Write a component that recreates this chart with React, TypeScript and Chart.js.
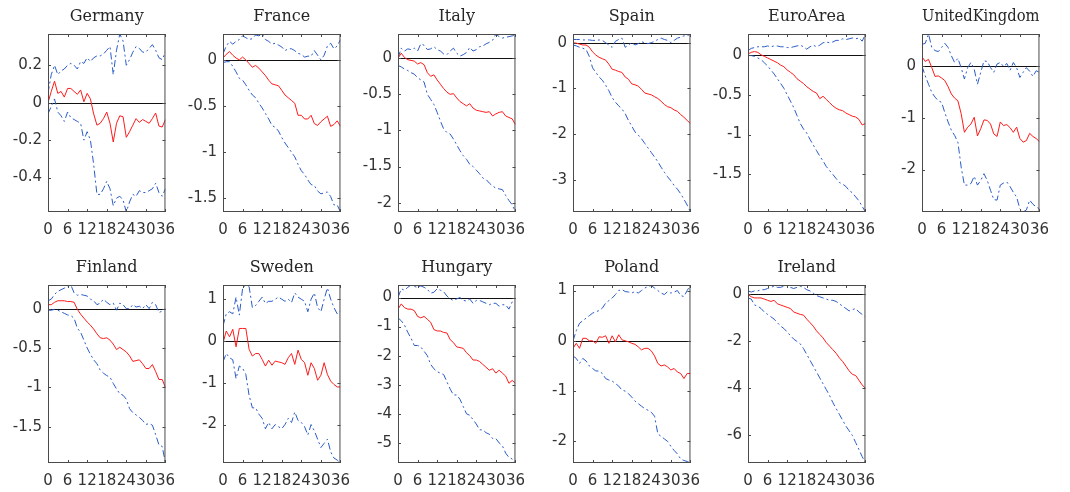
import React, { useEffect, useRef } from "react";
import { Chart, registerables } from "chart.js";

Chart.register(...registerables);

// ---------- data ----------
const months = [0, 1, 2, 3, 4, 5, 6, 7, 8, 9, 10, 11, 12, 13, 14, 15, 16, 17, 18, 19, 20, 21, 22, 23, 24, 25, 26, 27, 28, 29, 30, 31, 32, 33, 34, 35, 36];
const xTicks = [0, 6, 12, 18, 24, 30, 36];

const countries = ["Germany", "France", "Italy", "Spain", "EuroArea", "UnitedKingdom", "Finland", "Sweden", "Hungary", "Poland", "Ireland"];

const germanyMedian = [0, 0.06, 0.115, 0.05, 0.06, 0.03, 0.076, 0.076, 0.06, 0.045, 0.068, 0.005, 0.05, 0.02, -0.06, -0.12, -0.11, -0.085, -0.05, -0.11, -0.21, -0.11, -0.07, -0.075, -0.185, -0.155, -0.12, -0.085, -0.105, -0.09, -0.1, -0.11, -0.085, -0.055, -0.125, -0.13, -0.09];
const germanyUpper = [0.05, 0.15, 0.2, 0.15, 0.17, 0.18, 0.2, 0.21, 0.2, 0.18, 0.22, 0.21, 0.24, 0.22, 0.24, 0.25, 0.25, 0.26, 0.28, 0.3, 0.15, 0.28, 0.367, 0.33, 0.2, 0.23, 0.27, 0.3, 0.29, 0.27, 0.27, 0.29, 0.31, 0.28, 0.24, 0.23, 0.27];
const germanyLower = [-0.06, -0.02, 0.02, -0.05, -0.07, -0.1, -0.05, -0.08, -0.09, -0.1, -0.11, -0.2, -0.155, -0.2, -0.33, -0.49, -0.49, -0.46, -0.42, -0.46, -0.55, -0.51, -0.5, -0.52, -0.584, -0.53, -0.49, -0.5, -0.47, -0.48, -0.48, -0.47, -0.46, -0.43, -0.48, -0.5, -0.46];
const germanyYTicks = [-0.4, -0.2, 0, 0.2];
const germanyYRange = [-0.584, 0.367];

const franceMedian = [0.02, 0.06, 0.09, 0.05, 0.02, 0.0, 0.03, 0.0, -0.04, -0.08, -0.06, -0.09, -0.13, -0.17, -0.22, -0.26, -0.27, -0.28, -0.33, -0.38, -0.41, -0.44, -0.47, -0.6, -0.6, -0.64, -0.64, -0.6, -0.69, -0.71, -0.67, -0.64, -0.61, -0.72, -0.7, -0.66, -0.72];
const franceUpper = [0.065, 0.15, 0.2, 0.17, 0.2, 0.22, 0.26, 0.24, 0.22, 0.23, 0.27, 0.26, 0.28, 0.22, 0.2, 0.17, 0.18, 0.16, 0.14, 0.1, 0.12, 0.12, 0.1, 0.07, 0.06, 0.03, 0.04, 0.04, 0.1, 0.05, 0.0, 0.05, 0.15, 0.18, 0.12, 0.15, 0.22];
const franceLower = [-0.03, -0.02, -0.02, -0.07, -0.13, -0.2, -0.22, -0.27, -0.33, -0.38, -0.41, -0.47, -0.52, -0.58, -0.64, -0.71, -0.73, -0.77, -0.84, -0.9, -0.95, -1.0, -1.05, -1.13, -1.2, -1.24, -1.3, -1.35, -1.36, -1.42, -1.45, -1.44, -1.43, -1.48, -1.57, -1.57, -1.647];
const franceYTicks = [-1.5, -1, -0.5, 0];
const franceYRange = [-1.647, 0.28];

const italyMedian = [0, 0.07, 0.01, -0.02, -0.03, -0.04, -0.08, -0.06, -0.09, -0.2, -0.25, -0.23, -0.3, -0.36, -0.42, -0.47, -0.5, -0.49, -0.55, -0.6, -0.63, -0.66, -0.63, -0.69, -0.72, -0.73, -0.74, -0.75, -0.74, -0.8, -0.77, -0.75, -0.74, -0.8, -0.82, -0.84, -0.92];
const italyUpper = [0.0, 0.14, 0.1, 0.13, 0.12, 0.14, 0.1, 0.2, 0.18, 0.12, 0.13, 0.16, 0.12, 0.1, 0.06, 0.05, 0.1, 0.14, 0.07, 0.03, 0.05, 0.08, 0.15, 0.1, 0.12, 0.16, 0.17, 0.2, 0.22, 0.25, 0.336, 0.3, 0.28, 0.29, 0.3, 0.31, 0.32];
const italyLower = [-0.1, -0.12, -0.15, -0.17, -0.2, -0.22, -0.27, -0.3, -0.33, -0.5, -0.57, -0.64, -0.75, -0.87, -0.98, -1.03, -1.05, -1.12, -1.2, -1.28, -1.35, -1.4, -1.47, -1.5, -1.55, -1.6, -1.66, -1.68, -1.73, -1.77, -1.8, -1.81, -1.82, -1.9, -1.97, -2.03, -2.13];
const italyYTicks = [-2, -1.5, -1, -0.5, 0];
const italyYRange = [-2.13, 0.336];

const spainMedian = [0, -0.01, -0.03, -0.05, -0.05, -0.1, -0.2, -0.27, -0.32, -0.35, -0.38, -0.47, -0.58, -0.6, -0.63, -0.65, -0.75, -0.8, -0.9, -0.92, -0.95, -1.02, -1.1, -1.12, -1.14, -1.18, -1.22, -1.28, -1.35, -1.4, -1.42, -1.47, -1.5, -1.57, -1.63, -1.7, -1.77];
const spainUpper = [0.07, 0.07, 0.07, 0.06, 0.06, 0.06, 0.05, 0.05, 0.06, 0.05, 0.0, -0.05, -0.1, 0.03, 0.07, 0.1, -0.1, -0.05, 0.0, -0.05, -0.02, 0.02, 0.0, -0.02, 0.0, 0.03, 0.07, 0.1, 0.07, 0.05, 0.0, 0.05, 0.1, 0.12, 0.15, 0.15, 0.19];
const spainLower = [-0.05, -0.07, -0.1, -0.12, -0.15, -0.3, -0.55, -0.65, -0.75, -0.82, -0.93, -1.05, -1.2, -1.3, -1.38, -1.45, -1.55, -1.7, -1.82, -1.95, -2.02, -2.1, -2.2, -2.3, -2.4, -2.5, -2.6, -2.72, -2.83, -2.93, -3.02, -3.12, -3.2, -3.3, -3.42, -3.55, -3.7];
const spainYTicks = [-3, -2, -1, 0];
const spainYRange = [-3.7, 0.19];

const euroAreaMedian = [0.01, 0.03, 0.04, 0.03, 0.0, -0.02, -0.04, -0.06, -0.08, -0.1, -0.13, -0.15, -0.19, -0.22, -0.25, -0.3, -0.33, -0.36, -0.4, -0.43, -0.46, -0.48, -0.55, -0.52, -0.56, -0.6, -0.64, -0.67, -0.69, -0.7, -0.73, -0.75, -0.77, -0.78, -0.81, -0.88, -0.86];
const euroAreaUpper = [0.05, 0.08, 0.09, 0.1, 0.1, 0.1, 0.11, 0.1, 0.11, 0.11, 0.1, 0.1, 0.09, 0.09, 0.1, 0.11, 0.12, 0.1, 0.07, 0.1, 0.12, 0.1, 0.12, 0.15, 0.16, 0.15, 0.16, 0.18, 0.18, 0.2, 0.19, 0.2, 0.21, 0.2, 0.21, 0.17, 0.26];
const euroAreaLower = [-0.01, -0.01, -0.02, -0.04, -0.06, -0.1, -0.14, -0.19, -0.24, -0.3, -0.36, -0.42, -0.5, -0.58, -0.66, -0.76, -0.86, -0.93, -0.98, -1.06, -1.13, -1.2, -1.27, -1.33, -1.4, -1.45, -1.5, -1.55, -1.6, -1.62, -1.65, -1.7, -1.73, -1.78, -1.83, -1.9, -1.97];
const euroAreaYTicks = [-1.5, -1, -0.5, 0];
const euroAreaYRange = [-1.97, 0.26];

const ukMedian = [0.18, 0.09, 0.13, -0.03, -0.2, -0.19, -0.23, -0.28, -0.4, -0.54, -0.62, -0.67, -0.92, -1.28, -1.18, -1.12, -0.99, -1.35, -1.21, -1.04, -1.05, -1.12, -1.31, -1.36, -1.08, -1.15, -1.13, -1.19, -1.28, -1.18, -1.4, -1.47, -1.44, -1.3, -1.36, -1.4, -1.46];
const ukUpper = [0.42, 0.44, 0.62, 0.36, 0.3, 0.28, 0.36, 0.44, 0.36, 0.2, 0.07, 0.15, -0.03, -0.25, -0.03, 0.07, -0.06, -0.35, -0.12, 0.1, 0.09, -0.03, -0.12, 0.04, 0.07, -0.01, 0.05, -0.08, 0.07, -0.03, -0.22, -0.12, -0.03, -0.1, -0.2, -0.09, -0.12];
const ukLower = [0.0, -0.19, -0.35, -0.51, -0.6, -0.67, -0.7, -0.9, -1.08, -1.24, -1.34, -1.47, -1.95, -2.3, -2.3, -2.27, -2.13, -2.3, -2.21, -2.08, -2.21, -2.4, -2.58, -2.59, -2.3, -2.26, -2.24, -2.33, -2.44, -2.53, -2.76, -2.82, -2.78, -2.59, -2.67, -2.72, -2.76];
const ukYTicks = [-2, -1, 0];
const ukYRange = [-2.82, 0.62];

const finlandMedian = [0.05, 0.05, 0.08, 0.1, 0.1, 0.1, 0.09, 0.09, 0.08, -0.01, -0.07, -0.12, -0.17, -0.21, -0.26, -0.32, -0.37, -0.38, -0.37, -0.4, -0.45, -0.52, -0.49, -0.52, -0.55, -0.6, -0.67, -0.66, -0.65, -0.7, -0.76, -0.76, -0.71, -0.8, -0.9, -0.9, -1.0];
const finlandUpper = [0.1, 0.12, 0.18, 0.22, 0.24, 0.26, 0.28, 0.3, 0.2, 0.17, 0.18, 0.17, 0.16, 0.12, 0.1, 0.05, 0.07, 0.12, 0.08, 0.05, 0.07, -0.02, 0.07, 0.05, 0.0, 0.0, 0.05, 0.02, 0.03, 0.0, 0.05, 0.0, 0.08, 0.05, -0.05, -0.03, 0.0];
const finlandLower = [-0.02, -0.02, -0.01, -0.02, -0.04, -0.06, -0.08, -0.09, -0.12, -0.25, -0.3, -0.4, -0.5, -0.58, -0.65, -0.7, -0.78, -0.82, -0.85, -0.87, -0.95, -1.02, -1.08, -1.1, -1.15, -1.27, -1.32, -1.35, -1.38, -1.42, -1.47, -1.46, -1.48, -1.6, -1.73, -1.75, -1.96];
const finlandYTicks = [-1.5, -1, -0.5, 0];
const finlandYRange = [-1.96, 0.3];

const swedenMedian = [-0.05, 0.24, 0.1, 0.28, -0.14, 0.3, 0.3, 0.3, -0.2, -0.36, -0.3, -0.3, -0.44, -0.6, -0.46, -0.58, -0.48, -0.5, -0.52, -0.56, -0.4, -0.3, -0.56, -0.22, -0.44, -0.52, -0.82, -0.52, -0.66, -0.94, -0.82, -0.52, -0.8, -0.96, -1.04, -1.1, -1.1];
const swedenUpper = [0.36, 0.65, 0.7, 0.65, 1.05, 0.62, 1.25, 1.34, 1.3, 0.8, 0.85, 0.95, 1.05, 0.9, 0.95, 0.95, 1.0, 1.05, 1.0, 0.95, 1.0, 0.92, 1.15, 1.05, 1.0, 0.95, 0.7, 1.0, 1.15, 0.8, 0.7, 1.0, 1.27, 1.0, 0.8, 0.65, 0.72];
const swedenLower = [-0.5, -0.3, -0.4, -0.45, -0.9, -0.6, -0.65, -0.8, -1.3, -1.6, -1.6, -1.75, -1.85, -2.1, -1.95, -2.1, -2.0, -2.05, -2.1, -2.0, -1.85, -1.95, -1.7, -1.9, -1.95, -2.05, -2.25, -2.0, -2.15, -2.35, -2.55, -2.45, -2.35, -2.65, -2.8, -2.85, -2.92];
const swedenYTicks = [-2, -1, 0, 1];
const swedenYRange = [-2.92, 1.34];

const hungaryMedian = [-0.4, -0.22, -0.35, -0.4, -0.4, -0.45, -0.65, -0.7, -0.65, -0.75, -0.85, -1.1, -1.15, -1.15, -1.2, -1.22, -1.45, -1.55, -1.7, -1.72, -1.75, -1.9, -2.0, -2.15, -2.15, -2.2, -2.3, -2.4, -2.5, -2.45, -2.6, -2.5, -2.6, -2.7, -2.95, -2.85, -2.95];
const hungaryUpper = [0.0, 0.3, 0.25, 0.35, 0.43, 0.38, 0.35, 0.4, 0.35, 0.28, 0.15, 0.18, 0.3, 0.25, 0.2, 0.05, -0.05, -0.1, -0.05, 0.0, -0.1, -0.12, -0.05, -0.2, -0.1, -0.1, -0.15, -0.2, -0.25, -0.2, -0.2, -0.3, -0.25, -0.25, -0.4, -0.15, -0.15];
const hungaryLower = [-0.7, -0.8, -0.95, -1.2, -1.4, -1.65, -1.65, -1.7, -1.85, -2.0, -2.3, -2.45, -2.55, -2.6, -2.65, -2.9, -3.15, -3.35, -3.35, -3.5, -3.75, -4.0, -4.05, -4.2, -4.35, -4.55, -4.55, -4.65, -4.7, -4.85, -4.85, -5.0, -5.1, -5.35, -5.5, -5.55, -5.69];
const hungaryYTicks = [-5, -4, -3, -2, -1, 0];
const hungaryYRange = [-5.69, 0.43];

const polandMedian = [-0.15, -0.05, -0.15, 0.05, 0.05, 0.0, 0.0, -0.05, 0.08, 0.07, 0.1, -0.05, 0.1, -0.02, 0.12, 0.02, 0.0, -0.02, -0.05, -0.07, -0.12, -0.18, -0.15, -0.15, -0.2, -0.3, -0.45, -0.5, -0.48, -0.52, -0.58, -0.55, -0.62, -0.65, -0.75, -0.65, -0.65];
const polandUpper = [0.0, 0.2, 0.35, 0.4, 0.45, 0.5, 0.55, 0.58, 0.6, 0.65, 0.75, 0.8, 0.85, 0.92, 1.0, 1.02, 0.98, 0.97, 0.95, 0.98, 0.95, 1.0, 1.05, 1.08, 1.1, 1.05, 1.0, 0.95, 0.92, 0.98, 0.95, 0.97, 1.0, 0.9, 0.88, 1.0, 1.11];
const polandLower = [-0.3, -0.35, -0.45, -0.35, -0.4, -0.5, -0.55, -0.6, -0.6, -0.65, -0.75, -0.78, -0.8, -0.85, -0.9, -0.98, -1.0, -1.05, -1.12, -1.2, -1.25, -1.3, -1.35, -1.38, -1.42, -1.5, -1.85, -1.9, -1.95, -2.0, -2.1, -2.18, -2.25, -2.35, -2.38, -2.4, -2.43];
const polandYTicks = [-2, -1, 0, 1];
const polandYRange = [-2.43, 1.11];

const irelandMedian = [0.0, -0.1, -0.15, -0.15, -0.15, -0.2, -0.25, -0.3, -0.25, -0.4, -0.45, -0.5, -0.55, -0.6, -0.75, -0.8, -0.85, -0.88, -1.05, -1.2, -1.35, -1.55, -1.7, -1.85, -2.05, -2.2, -2.35, -2.5, -2.7, -2.85, -3.05, -3.25, -3.4, -3.45, -3.65, -3.85, -4.0];
const irelandUpper = [0.15, 0.1, 0.15, 0.15, 0.2, 0.2, 0.25, 0.3, 0.35, 0.3, 0.3, 0.35, 0.4, 0.3, 0.25, 0.3, 0.35, 0.3, 0.2, 0.15, 0.05, -0.05, -0.1, -0.15, -0.2, -0.25, -0.25, -0.3, -0.4, -0.5, -0.6, -0.7, -0.65, -0.6, -0.75, -0.85, -0.95];
const irelandLower = [-0.15, -0.2, -0.45, -0.5, -0.6, -0.75, -0.85, -0.95, -1.05, -1.2, -1.35, -1.45, -1.6, -1.75, -1.9, -2.0, -2.1, -2.3, -2.55, -2.8, -3.05, -3.3, -3.55, -3.8, -4.05, -4.3, -4.6, -4.85, -5.1, -5.35, -5.6, -5.8, -6.0, -6.3, -6.6, -6.9, -7.17];
const irelandYTicks = [-6, -4, -2, 0];
const irelandYRange = [-7.17, 0.4];

const medians = [germanyMedian, franceMedian, italyMedian, spainMedian, euroAreaMedian, ukMedian, finlandMedian, swedenMedian, hungaryMedian, polandMedian, irelandMedian];
const uppers = [germanyUpper, franceUpper, italyUpper, spainUpper, euroAreaUpper, ukUpper, finlandUpper, swedenUpper, hungaryUpper, polandUpper, irelandUpper];
const lowers = [germanyLower, franceLower, italyLower, spainLower, euroAreaLower, ukLower, finlandLower, swedenLower, hungaryLower, polandLower, irelandLower];
const yTickSets = [germanyYTicks, franceYTicks, italyYTicks, spainYTicks, euroAreaYTicks, ukYTicks, finlandYTicks, swedenYTicks, hungaryYTicks, polandYTicks, irelandYTicks];
const yRanges = [germanyYRange, franceYRange, italyYRange, spainYRange, euroAreaYRange, ukYRange, finlandYRange, swedenYRange, hungaryYRange, polandYRange, irelandYRange];

// ---------- layout & style ----------
const PLOT_W = 130;
const PLOT_H = 178;
const AXIS_W = 48;
const TITLE_H = 34;
const XAXIS_H = 36;
const PAD_R = 6;
const COL_LEFT = [48, 223, 398, 573, 748, 922];
const ROW_TOP = [34, 285];

const RED = "#ff1a1a";
const BLUE = "#2b5cc8";
const DASH = [7, 3, 2, 3];
const AXIS_COLOR = "#4a4a4a";
const TEXT_COLOR = "#333333";

const boxPlugin = {
  id: "matlabBox",
  beforeDatasetsDraw(chart: any) {
    const { ctx, chartArea: a, scales } = chart;
    const y0 = Math.round(scales.y.getPixelForValue(0)) + 0.5;
    ctx.save();
    ctx.strokeStyle = "#111111";
    ctx.lineWidth = 1;
    ctx.beginPath();
    ctx.moveTo(a.left, y0);
    ctx.lineTo(a.right, y0);
    ctx.stroke();
    ctx.restore();
  },
  afterDatasetsDraw(chart: any) {
    const { ctx, chartArea: a, scales } = chart;
    const tl = 3;
    ctx.save();
    ctx.strokeStyle = AXIS_COLOR;
    ctx.lineWidth = 1;
    ctx.strokeRect(a.left + 0.5, a.top + 0.5, a.right - a.left - 1, a.bottom - a.top - 1);
    ctx.beginPath();
    scales.x.ticks.forEach((t: any) => {
      const px = Math.round(scales.x.getPixelForValue(t.value)) + 0.5;
      ctx.moveTo(px, a.bottom);
      ctx.lineTo(px, a.bottom - tl);
      ctx.moveTo(px, a.top);
      ctx.lineTo(px, a.top + tl);
    });
    scales.y.ticks.forEach((t: any) => {
      const py = Math.round(scales.y.getPixelForValue(t.value)) + 0.5;
      ctx.moveTo(a.left, py);
      ctx.lineTo(a.left + tl, py);
      ctx.moveTo(a.right, py);
      ctx.lineTo(a.right - tl, py);
    });
    ctx.stroke();
    ctx.restore();
  },
};

function Panel({ index, left, top }: { index: number; left: number; top: number }) {
  const ref = useRef<HTMLCanvasElement>(null);
  const w = AXIS_W + PLOT_W + PAD_R;
  const h = TITLE_H + PLOT_H + XAXIS_H;

  useEffect(() => {
    if (!ref.current) return;
    const toPts = (arr: number[]) => arr.map((v, i) => ({ x: months[i], y: v }));
    const yTicks = yTickSets[index];
    const range = yRanges[index];
    const tickFont = { family: "'DejaVu Sans', sans-serif", size: 15 };
    const chart = new Chart(ref.current, {
      type: "line",
      data: {
        datasets: [
          { data: toPts(uppers[index]), borderColor: BLUE, borderWidth: 1, borderDash: DASH, order: 3 },
          { data: toPts(lowers[index]), borderColor: BLUE, borderWidth: 1, borderDash: DASH, order: 2 },
          { data: toPts(medians[index]), borderColor: RED, borderWidth: 1, order: 1 },
        ],
      },
      options: {
        responsive: false,
        animation: false,
        devicePixelRatio: 1,
        layout: { autoPadding: false, padding: { left: 0, right: PAD_R, top: 0, bottom: 0 } },
        elements: { point: { radius: 0 }, line: { tension: 0 } },
        plugins: {
          legend: { display: false },
          tooltip: { enabled: false },
          title: {
            display: true,
            text: countries[index],
            fullSize: false,
            color: "#262626",
            font: { family: "'DejaVu Serif', serif", size: 16, weight: "normal", lineHeight: 1.2 },
            padding: { top: 7, bottom: 7.8 },
          },
        },
        scales: {
          x: {
            type: "linear",
            min: 0,
            max: 36,
            grid: { display: false, drawTicks: false },
            border: { display: false },
            afterBuildTicks: (s: any) => {
              s.ticks = xTicks.map((v) => ({ value: v }));
            },
            afterFit: (s: any) => {
              s.height = XAXIS_H;
            },
            ticks: {
              autoSkip: false,
              maxRotation: 0,
              minRotation: 0,
              padding: 9,
              color: TEXT_COLOR,
              font: tickFont,
              callback: (v: any) => String(v),
            },
          },
          y: {
            type: "linear",
            min: range[0],
            max: range[1],
            grid: { display: false, drawTicks: false },
            border: { display: false },
            afterBuildTicks: (s: any) => {
              s.ticks = yTicks.map((v) => ({ value: v }));
            },
            afterFit: (s: any) => {
              s.width = AXIS_W;
            },
            ticks: {
              autoSkip: false,
              padding: 6,
              color: TEXT_COLOR,
              font: tickFont,
              callback: (v: any) => String(v),
            },
          },
        },
      } as any,
      plugins: [boxPlugin],
    });
    return () => chart.destroy();
  }, [index]);

  return (
    <canvas
      ref={ref}
      width={w}
      height={h}
      style={{ position: "absolute", left: left - AXIS_W, top: top - TITLE_H, width: w, height: h }}
    />
  );
}

export default function App() {
  return (
    <div
      style={{
        position: "fixed",
        left: 0,
        top: 0,
        width: 1070,
        height: 492,
        background: "#ffffff",
        overflow: "hidden",
      }}
    >
      {countries.map((c, i) => (
        <Panel key={c} index={i} left={COL_LEFT[i % 6]} top={ROW_TOP[Math.floor(i / 6)]} />
      ))}
    </div>
  );
}
